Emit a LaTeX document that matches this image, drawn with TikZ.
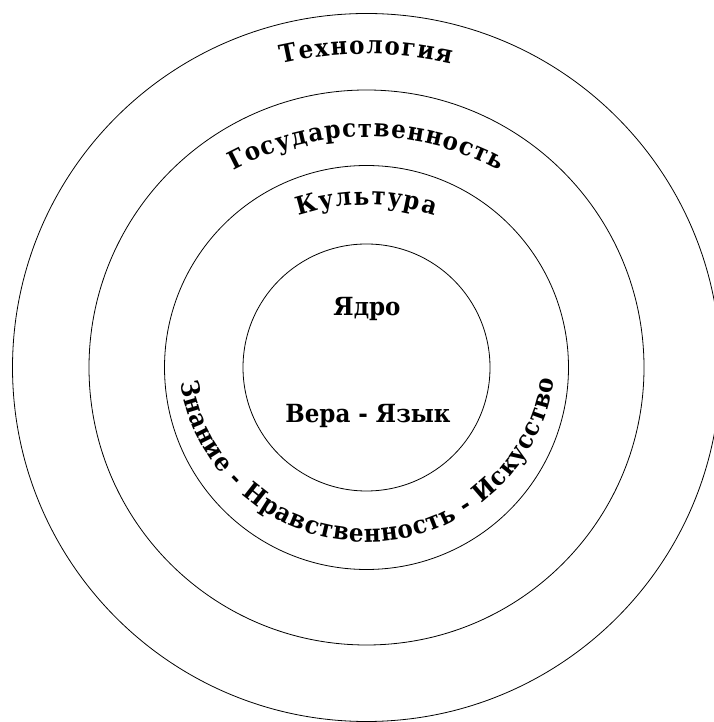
\documentclass[tikz,border=0pt]{standalone}
\usepackage{fontspec}
\setmainfont{DejaVu Serif}[FakeStretch=0.92]
\usetikzlibrary{decorations.text}
\newcommand\lblfont{\bfseries\fontsize{25}{25}\selectfont}
\begin{document}
\begin{tikzpicture}[x=1pt,y=1pt,
  ring/.style={draw=black, line width=0.8pt},
  lbl/.style={font=\lblfont, inner sep=0pt},
  arctext/.style={decorate, decoration={text along path, text={|\lblfont|#1}, text align=fit to path}}]
\useasboundingbox (0,0) rectangle (713,722);
\coordinate (c) at (366.5,354.5);
% centres of the lettering arcs
\coordinate (ct) at (366.5,288);   % Технология: top 668, R 380
\coordinate (cs) at (366.5,305);   % Государственность: top 585, R 280
\coordinate (ck) at (366.5,297);   % Культура: top 517, R 220
\coordinate (cb) at (367,369);     % lower lettering, R 189
\draw[ring] (c) circle[radius=354];
\draw[ring] (c) circle[radius=277.5];
\draw[ring] (c) circle[radius=202];
\draw[ring] (c) circle[radius=123.5];
\path[arctext={Технология}] ([shift={(102.9:380)}]ct) arc[start angle=102.9, end angle=77.1, radius=380];
\path[arctext={Государственность}] ([shift={(118.4:280)}]cs) arc[start angle=118.4, end angle=61.6, radius=280];
\path[arctext={Культура}] ([shift={(108:220)}]ck) arc[start angle=108, end angle=72, radius=220];
\path[arctext={Знание - Нравственность - Искусство}] ([shift={(189:189)}]cb) arc[start angle=189, end angle=352, radius=189];
\node[lbl, anchor=base] (core) at (367,406) {Ядро};
\node[lbl, anchor=base] (faith) at (368,299) {Вера - Язык};
\end{tikzpicture}
\end{document}
